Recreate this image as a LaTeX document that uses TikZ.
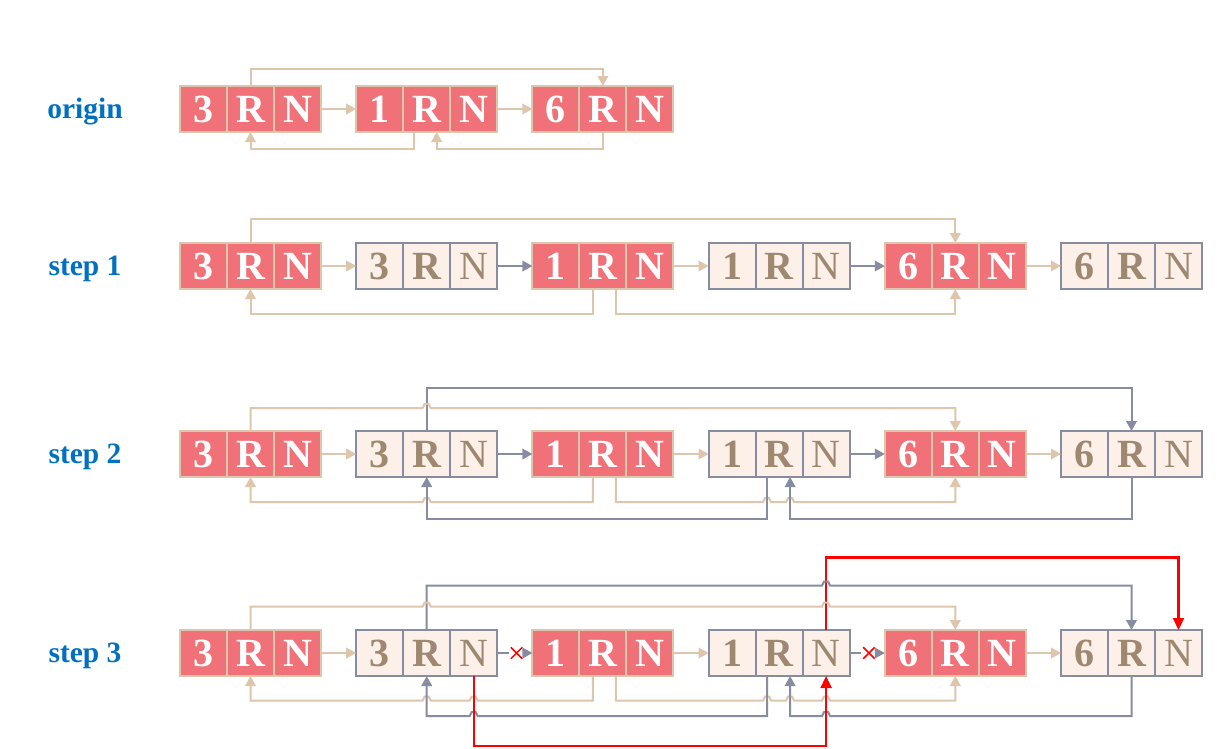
\documentclass[tikz,border=0pt]{standalone}
\usepackage{fontspec}
\setmainfont{Liberation Serif}
\usetikzlibrary{arrows.meta,calc,shapes.misc}
\definecolor{cred}{HTML}{F07178}
\definecolor{ctan}{HTML}{DEC6AC}
\definecolor{ccopy}{HTML}{FDF0E8}
\definecolor{cbrown}{HTML}{9E8870}
\definecolor{cgray}{HTML}{878CA0}
\definecolor{cblue}{HTML}{0070C0}
\newcommand\grp[5]{%
  \node[#4] (#1c) at (#2+23.5,#3) {#5};
  \node[#4] (#1r) at (#2+70.5,#3) {R};
  \node[#4n] (#1n) at (#2+117.5,#3) {N};}
\def\hopR{-- ++(2,-4) -- ++(4,0) -- ++(2,4)}
\def\hopL{-- ++(-2,-4) -- ++(-4,0) -- ++(-2,4)}
\begin{document}
\begin{tikzpicture}[x=1pt,y=-1pt,
  cell/.style={minimum width=47pt,minimum height=46pt,inner sep=0pt,outer sep=0pt,
    line width=2pt,text height=27pt,text depth=0pt,
    font=\fontsize{40}{40}\selectfont\bfseries},
  act/.style={cell,fill=cred,draw=ctan,text=white},
  actn/.style={act},
  cpy/.style={cell,fill=ccopy,draw=cgray,text=cbrown},
  cpyn/.style={cpy,font=\fontsize{40}{40}\selectfont\mdseries},
  lbl/.style={font=\fontsize{29.5}{30}\selectfont\bfseries,text=cblue,anchor=base},
  tanL/.style={draw=ctan,line width=2pt},
  tanA/.style={tanL,-{Triangle[length=10pt,width=10.5pt]}},
  grayL/.style={draw=cgray,line width=2pt},
  grayA/.style={grayL,-{Triangle[length=10pt,width=10.5pt]}},
  redA/.style={draw=red,line width=2.2pt,-{Triangle[length=12pt,width=11pt]}},
  xmark/.style={cross out,draw=red,line width=1.5pt,minimum size=10pt,inner sep=0pt}]
\useasboundingbox[fill=white] (0,0) rectangle (1218,748);

% labels
\node[lbl] (l0) at (85,118) {origin};
\node[lbl] (l1) at (85,275) {step 1};
\node[lbl] (l2) at (85,463) {step 2};
\node[lbl] (l3) at (85,662) {step 3};

% row 0
\grp{a1}{180}{109}{act}{3}
\grp{a2}{356.2}{109}{act}{1}
\grp{a3}{532.4}{109}{act}{6}
% row 1
\grp{b1}{180}{266}{act}{3}
\grp{b2}{356.2}{266}{cpy}{3}
\grp{b3}{532.4}{266}{act}{1}
\grp{b4}{708.6}{266}{cpy}{1}
\grp{b5}{884.8}{266}{act}{6}
\grp{b6}{1061}{266}{cpy}{6}
% row 2
\grp{c1}{180}{454}{act}{3}
\grp{c2}{356.2}{454}{cpy}{3}
\grp{c3}{532.4}{454}{act}{1}
\grp{c4}{708.6}{454}{cpy}{1}
\grp{c5}{884.8}{454}{act}{6}
\grp{c6}{1061}{454}{cpy}{6}
% row 3
\grp{d1}{180}{653}{act}{3}
\grp{d2}{356.2}{653}{cpy}{3}
\grp{d3}{532.4}{653}{act}{1}
\grp{d4}{708.6}{653}{cpy}{1}
\grp{d5}{884.8}{653}{act}{6}
\grp{d6}{1061}{653}{cpy}{6}

% ---------- row 0 connectors
\draw[tanA] (a1r.north) -- ++(0,-17) -| (a3r.north);
\draw[tanA] (a1n.east) -- (a2c.west);
\draw[tanA] (a2n.east) -- (a3c.west);
\draw[tanA] ([xshift=-13pt]a2r.south) -- ++(0,17) -| (a1r.south);
\draw[tanA] (a3r.south) -- ++(0,17) -| ([xshift=10pt]a2r.south);

% ---------- row 1 connectors
\draw[tanA] (b1r.north) -- ++(0,-24) -| (b5r.north);
\draw[tanA] (b1n.east) -- (b2c.west);
\draw[grayA] (b2n.east) -- (b3c.west);
\draw[tanA] (b3n.east) -- (b4c.west);
\draw[grayA] (b4n.east) -- (b5c.west);
\draw[tanA] (b5n.east) -- (b6c.west);
\draw[tanA] ([xshift=-10pt]b3r.south) -- ++(0,24.5) -| (b1r.south);
\draw[tanA] ([xshift=13pt]b3r.south) -- ++(0,24.5) -| (b5r.south);

% ---------- row 2 connectors
\draw[grayA] (c2r.north) -- ++(0,-43) -| (c6r.north);
\draw[tanA] (c1r.north) -- ++(0,-23) -- ($(c2r.north)+(-4,-23)$) \hopR -| (c5r.north);
\draw[tanA] (c1n.east) -- (c2c.west);
\draw[grayA] (c2n.east) -- (c3c.west);
\draw[tanA] (c3n.east) -- (c4c.west);
\draw[grayA] (c4n.east) -- (c5c.west);
\draw[tanA] (c5n.east) -- (c6c.west);
\draw[tanA] ([xshift=-10pt]c3r.south) -- ++(0,25) -- ($(c2r.south)+(4,25)$) \hopL -| (c1r.south);
\draw[tanA] ([xshift=13pt]c3r.south) -- ++(0,25) -- ($(c4r.south)+(-16,25)$) \hopR
   -- ($(c4r.south)+(7,25)$) \hopR -| (c5r.south);
\draw[grayA] ([xshift=-12pt]c4r.south) -- ++(0,42) -| (c2r.south);
\draw[grayA] (c6r.south) -- ++(0,42) -| ([xshift=11pt]c4r.south);

% ---------- row 3 connectors
\draw[redA] (d4n.north) -- ++(0,-72.5) -| (d6n.north);
\draw[grayA] (d2r.north) -- ++(0,-44.5) -- ($(d4n.north)+(-4,-44.5)$) \hopR -| (d6r.north);
\draw[tanA] (d1r.north) -- ++(0,-23.5) -- ($(d2r.north)+(-4,-23.5)$) \hopR
   -- ($(d4n.north)+(-4,-23.5)$) \hopR -| (d5r.north);
\draw[tanA] (d1n.east) -- (d2c.west);
\node[xmark] (x1) at ($(d2n.east)!0.55!(d3c.west)$) {};
\draw[grayL] (d2n.east) -- ([xshift=-2pt]x1.west);
\draw[grayA] ([xshift=1.5pt]x1.east) -- (d3c.west);
\draw[tanA] (d3n.east) -- (d4c.west);
\node[xmark] (x2) at ($(d4n.east)!0.55!(d5c.west)$) {};
\draw[grayL] (d4n.east) -- ([xshift=-2pt]x2.west);
\draw[grayA] ([xshift=1.5pt]x2.east) -- (d5c.west);
\draw[tanA] (d5n.east) -- (d6c.west);
\draw[tanA] ([xshift=-10pt]d3r.south) -- ++(0,24.5) -- ($(d2n.south)+(4,24.5)$) \hopL
   -- ($(d2r.south)+(4,24.5)$) \hopL -| (d1r.south);
\draw[tanA] ([xshift=13pt]d3r.south) -- ++(0,24.5) -- ($(d4r.south)+(-16,24.5)$) \hopR
   -- ($(d4r.south)+(7,24.5)$) \hopR -- ($(d4n.south)+(-4,24.5)$) \hopR -| (d5r.south);
\draw[grayA] ([xshift=-12pt]d4r.south) -- ++(0,40) -- ($(d2n.south)+(4,40)$) \hopL -| (d2r.south);
\draw[grayA] (d6r.south) -- ++(0,40) -- ($(d4n.south)+(4,40)$) \hopL -| ([xshift=11pt]d4r.south);
\draw[redA] (d2n.south) -- ++(0,70) -| (d4n.south);
\end{tikzpicture}
\end{document}
